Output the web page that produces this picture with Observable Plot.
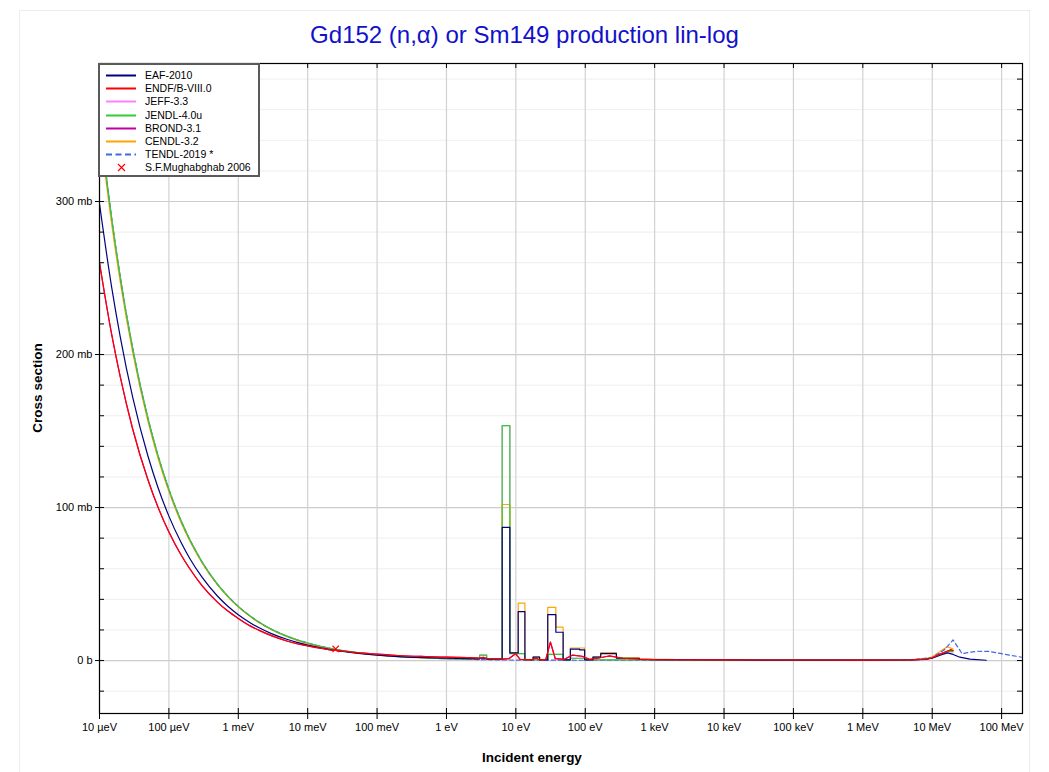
<!DOCTYPE html>
<html>
<head>
<meta charset="utf-8">
<script src="https://cdn.jsdelivr.net/npm/d3@7"></script>
<script src="https://cdn.jsdelivr.net/npm/@observablehq/plot@0.6"></script>
<style>
  html, body { margin: 0; padding: 0; background: #fff; }
  body { font-family: "Liberation Sans", Arial, sans-serif; }
  #wrap { position: relative; width: 1049px; height: 772px; overflow: hidden; }
  #panel { position: absolute; left: 19px; top: 10px; width: 1011px; height: 800px; border: 1px solid #ededed; box-sizing: border-box; }
  #chart { position: absolute; left: 0; top: 0; }
  #title { position: absolute; left: 0; top: 21px; width: 1049px; text-align: center; font-size: 24px; line-height: 27px; color: #1111cc; }
  #xlabel { position: absolute; left: 432px; width: 200px; top: 750px; text-align: center; font-size: 13.5px; font-weight: bold; line-height: 16px; }
  #ylabel { position: absolute; left: -62px; width: 200px; top: 380px; text-align: center; font-size: 13.5px; font-weight: bold; line-height: 16px; transform: rotate(-90deg); }
  #legend { position: absolute; left: 98px; top: 63px; width: 162px; height: 114px; box-sizing: border-box; background: #fff; border: 2px solid #5a5a5a; }
  .lrow { position: absolute; left: 0; height: 13px; width: 160px; font-size: 10.5px; line-height: 13px; }
  .lrow svg { position: absolute; left: 4px; top: 1px; }
  .lrow span { position: absolute; left: 45px; top: 0; white-space: nowrap; }
</style>
</head>
<body>
<div id="wrap">
  <div id="panel"></div>
  <div id="chart"></div>
  <div id="title">Gd152 (n,α) or Sm149 production lin-log</div>
  <div id="xlabel">Incident energy</div>
  <div id="ylabel">Cross section</div>
  <div id="legend"></div>
</div>
<script>
// ---------- data ----------
const libNames  = ["EAF-2010", "ENDF/B-VIII.0", "JEFF-3.3", "JENDL-4.0u", "BROND-3.1", "CENDL-3.2", "TENDL-2019 *"];
const libColors = ["#000080", "#ff0000", "#ff80ff", "#33cc33", "#c000a0", "#ffa500", "#4169e1"];
const expName = "S.F.Mughabghab 2006";

// Low-energy (1/v) region: shared energy grid (eV), cross sections (b)
const lowEnergy = [1e-5, 1.5e-5, 2e-5, 3e-5, 5e-5, 7e-5, 1e-4, 1.5e-4, 2e-4, 3e-4, 5e-4, 7e-4, 1e-3, 1.5e-3, 2e-3, 3e-3, 5e-3, 7e-3, 1e-2, 2e-2, 0.0253, 5e-2, 0.1, 0.2, 0.5, 1, 2];
const eafLow   = [0.2985, 0.2437, 0.2111, 0.1723, 0.1335, 0.1128, 0.0944, 0.0771, 0.0667, 0.0545, 0.0422, 0.0357, 0.0300, 0.0246, 0.0214, 0.0176, 0.0139, 0.0119, 0.0101, 0.0074, 0.0066, 0.0048, 0.0035, 0.0026, 0.0019, 0.0015, 0.0012];
const endfLow  = [0.2600, 0.2130, 0.1850, 0.1515, 0.1180, 0.1000, 0.0840, 0.0690, 0.0600, 0.0490, 0.0382, 0.0325, 0.0275, 0.0225, 0.0197, 0.0163, 0.0128, 0.0110, 0.0096, 0.0072, 0.0066, 0.0052, 0.0042, 0.0033, 0.0026, 0.0022, 0.0019];
const jendlLow = [0.3538, 0.2889, 0.2502, 0.2043, 0.1582, 0.1337, 0.1119, 0.0913, 0.0791, 0.0646, 0.0500, 0.0423, 0.0354, 0.0289, 0.0250, 0.0205, 0.0160, 0.0136, 0.0115, 0.0082, 0.0073, 0.0053, 0.0038, 0.0027, 0.0018, 0.0013, 0.0011];
const cendlLow = [0.3490, 0.2850, 0.2468, 0.2015, 0.1561, 0.1319, 0.1104, 0.0901, 0.0781, 0.0638, 0.0494, 0.0418, 0.0350, 0.0286, 0.0247, 0.0202, 0.0156, 0.0132, 0.0111, 0.0078, 0.0069, 0.0050, 0.0035, 0.0025, 0.0016, 0.0012, 0.0010];
const jeffLow  = jendlLow;
const brondLow = endfLow;
const tendlLow = jendlLow;

// Resonance and fast region: [energy eV, cross section b]
const eafRes = [[2,0.0012],[3,0.0011],[3,0.0015],[3.8,0.0015],[3.8,0.0009],[6.35,0.0009],[6.35,0.087],[8.2,0.087],[8.2,0.005],[10.8,0.005],[10.8,0.032],[13.5,0.032],[13.5,0.0006],[17.7,0.0006],[17.7,0.0022],[22,0.0022],[22,0.0005],[28.8,0.0005],[28.8,0.030],[37.7,0.030],[37.7,0.0185],[48,0.0185],[48,0.0005],[61,0.0005],[61,0.0075],[83,0.0075],[83,0.007],[98,0.007],[98,0.0005],[129,0.0005],[129,0.0022],[167,0.0022],[167,0.0045],[281,0.0045],[281,0.0015],[600,0.0015],[600,0.0008],[1000,0.0006],[1e4,0.0004],[1e5,0.0003],[1e6,0.0003],[5e6,0.0004],[8e6,0.0008],[1e7,0.0015],[1.3e7,0.0035],[1.65e7,0.0050],[2e7,0.0040],[2.5e7,0.0022],[3.5e7,0.0009],[6e7,0.0002]];
const endfRes = [[2,0.0019],[3,0.0016],[3.4,0.0021],[3.8,0.0013],[6.3,0.0009],[8,0.0013],[9.9,0.0045],[11.5,0.0008],[17,0.0005],[19.5,0.0015],[22,0.0005],[27,0.0008],[31.5,0.012],[37,0.0012],[50,0.0008],[65,0.0035],[90,0.0028],[115,0.0008],[150,0.0015],[220,0.0030],[350,0.0015],[600,0.0009],[1000,0.0006],[1e4,0.0004],[1e6,0.0003],[5e6,0.0004],[8e6,0.0009],[1e7,0.0018],[1.3e7,0.0042],[1.86e7,0.0070],[2e7,0.0066]];
const jendlRes = [[2,0.0011],[3,0.0012],[3,0.0035],[3.8,0.0035],[3.8,0.0010],[6.35,0.0010],[6.35,0.1536],[8.2,0.1536],[8.2,0.0045],[13.5,0.0045],[13.5,0.0006],[28.8,0.0006],[28.8,0.0040],[48,0.0040],[48,0.0004],[61,0.0004],[61,0.0015],[98,0.0015],[98,0.0005],[1000,0.0005],[1e5,0.0003],[1e6,0.0003],[5e6,0.0004],[8e6,0.0009],[1e7,0.0018],[1.3e7,0.0040],[1.7e7,0.0060],[2e7,0.0058]];
const cendlRes = [[2,0.0010],[3,0.0011],[3,0.0016],[3.8,0.0016],[3.8,0.0009],[6.35,0.0009],[6.35,0.102],[8.2,0.102],[8.2,0.005],[10.8,0.005],[10.8,0.0375],[13.5,0.0375],[13.5,0.0006],[17.7,0.0006],[17.7,0.0025],[22,0.0025],[22,0.0005],[28.8,0.0005],[28.8,0.0348],[37.7,0.0348],[37.7,0.0218],[48,0.0218],[48,0.0005],[61,0.0005],[61,0.0082],[98,0.0082],[98,0.0005],[129,0.0005],[129,0.0025],[167,0.0025],[167,0.0052],[281,0.0052],[281,0.0018],[600,0.0018],[600,0.0010],[1500,0.0008],[3000,0.0005],[1e5,0.0003],[1e6,0.0003],[5e6,0.0004],[8e6,0.0012],[1e7,0.0025],[1.3e7,0.0060],[1.66e7,0.0090],[2e7,0.0075]];
const tendlRes = [[2,0.0011],[3,0.0006],[10,0.0003],[100,0.0002],[1e5,0.0002],[1e6,0.0003],[5e6,0.0005],[1e7,0.0020],[1.5e7,0.0070],[2e7,0.0135],[2.7e7,0.0044],[3.5e7,0.0055],[4.5e7,0.0061],[6.5e7,0.0060],[1e8,0.0045],[2e8,0.0021]];
const jeffRes = jendlRes;
const brondRes = endfRes;

// Experimental point
const expEnergy = [0.0253];
const expValue  = [0.0076];

// Axis ticks
const xTickValues = [1e-5, 1e-4, 1e-3, 1e-2, 1e-1, 1, 10, 100, 1e3, 1e4, 1e5, 1e6, 1e7, 1e8];
const xTickLabels = ["10 µeV", "100 µeV", "1 meV", "10 meV", "100 meV", "1 eV", "10 eV", "100 eV", "1 keV", "10 keV", "100 keV", "1 MeV", "10 MeV", "100 MeV"];
const yTickValues = [0, 0.1, 0.2, 0.3];
const yTickLabels = ["0 b", "100 mb", "200 mb", "300 mb"];
const yMinorValues = [-0.02, 0.02, 0.04, 0.06, 0.08, 0.12, 0.14, 0.16, 0.18, 0.22, 0.24, 0.26, 0.28, 0.32, 0.34, 0.36, 0.38];

// ---------- build ----------
const lowSets = [eafLow, endfLow, jeffLow, jendlLow, brondLow, cendlLow, tendlLow];
const resSets = [eafRes, endfRes, jeffRes, jendlRes, brondRes, cendlRes, tendlRes];
const drawOrder = [2, 4, 5, 6, 3, 0, 1]; // JEFF, BROND, CENDL, TENDL, JENDL, EAF, ENDF

const xLab = new Map(xTickValues.map((v, i) => [v, xTickLabels[i]]));
const yLab = new Map(yTickValues.map((v, i) => [v, yTickLabels[i]]));

const lineMarks = [];
for (const k of drawOrder) {
  const low = lowEnergy.map((e, i) => ({E: e, s: lowSets[k][i]}));
  const res = resSets[k].map(([e, s]) => ({E: e, s}));
  const dash = k === 6 ? "4,3" : null;
  lineMarks.push(Plot.line(low, {x: "E", y: "s", stroke: libColors[k], strokeWidth: 1.2, curve: "monotone-x", strokeDasharray: dash, clip: true}));
  lineMarks.push(Plot.line(res, {x: "E", y: "s", stroke: libColors[k], strokeWidth: 1.2, strokeDasharray: dash, clip: true}));
}

const frameW = 1049 - 99 - 27;
const frameH = 772 - 63 - 59;

const chart = Plot.plot({
  width: 1049,
  height: 772,
  marginLeft: 99,
  marginRight: 27,
  marginTop: 63,
  marginBottom: 59,
  style: {fontFamily: '"Liberation Sans", Arial, sans-serif', fontSize: "11px", background: "transparent", color: "black", overflow: "visible"},
  x: {type: "log", domain: [1e-5, 2e8]},
  y: {domain: [-0.0346, 0.3902]},
  marks: [
    Plot.gridY(yMinorValues, {stroke: "#eeeeee", strokeOpacity: 1}),
    Plot.gridY(yTickValues, {stroke: "#cccccc", strokeOpacity: 1, strokeWidth: 1.2}),
    Plot.gridX(xTickValues, {stroke: "#d2d2d2", strokeOpacity: 1, strokeWidth: 1.2}),
    ...lineMarks,
    Plot.dot(expEnergy.map((e, i) => ({E: e, s: expValue[i]})), {x: "E", y: "s", symbol: "times", r: 3, stroke: "#ff0000", strokeWidth: 1.1}),
    Plot.frame({stroke: "black", strokeWidth: 1.2}),
    // inward ticks
    Plot.tickX(xTickValues, {x: d => d, insetTop: frameH - 5, stroke: "black"}),
    Plot.tickX(xTickValues, {x: d => d, insetBottom: frameH - 5, stroke: "black"}),
    Plot.tickY(yTickValues.concat(yMinorValues), {y: d => d, insetRight: frameW - 5, stroke: "black"}),
    Plot.tickY(yTickValues.concat(yMinorValues), {y: d => d, insetLeft: frameW - 5, stroke: "black"}),
    // outward axes
    Plot.axisX(xTickValues, {anchor: "bottom", tickSize: 6, tickPadding: 4, tickFormat: d => xLab.get(d), fontSize: 11, label: null}),
    Plot.axisY(yTickValues, {anchor: "left", tickSize: 4, tickPadding: 3, tickFormat: d => yLab.get(d), fontSize: 11, label: null})
  ]
});
document.getElementById("chart").appendChild(chart);

// ---------- legend ----------
const legend = document.getElementById("legend");
const rowH = 13.14;
const entries = libNames.map((n, i) => ({name: n, color: libColors[i], dash: i === 6}));
entries.forEach((e, i) => {
  const row = document.createElement("div");
  row.className = "lrow";
  row.style.top = (12.7 + i * rowH - 6.5 - 2) + "px";
  row.innerHTML = `<svg width="34" height="11"><line x1="2" y1="5.5" x2="32" y2="5.5" stroke="${e.color}" stroke-width="2" ${e.dash ? 'stroke-dasharray="6,3.5"' : ""}/></svg><span>${e.name}</span>`;
  legend.appendChild(row);
});
{
  const i = libNames.length;
  const row = document.createElement("div");
  row.className = "lrow";
  row.style.top = (12.7 + i * rowH - 6.5 - 2) + "px";
  row.innerHTML = `<svg width="34" height="11"><path d="M14,2 L21,9 M21,2 L14,9" stroke="#ff0000" stroke-width="1.2" fill="none"/></svg><span>${expName}</span>`;
  legend.appendChild(row);
}
</script>
</body>
</html>
